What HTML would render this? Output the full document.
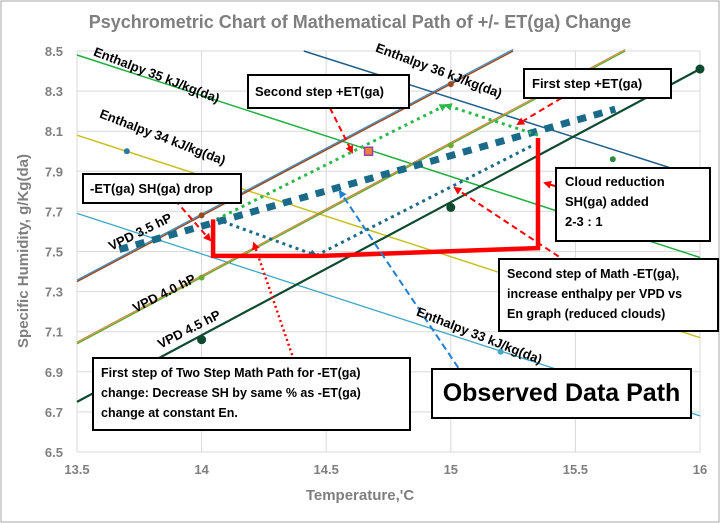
<!DOCTYPE html>
<html><head><meta charset="utf-8"><style>
html,body{margin:0;padding:0;background:#fff}
svg{display:block;font-family:"Liberation Sans",sans-serif}
</style></head><body>
<svg id="chart" width="720" height="523" viewBox="0 0 720 523">
<defs>
<marker id="ar" markerWidth="8" markerHeight="8" refX="6" refY="4" orient="auto" markerUnits="userSpaceOnUse"><path d="M0,0 L8,4 L0,8 z" fill="#ff0000"/></marker>
<marker id="ab" markerWidth="8" markerHeight="8" refX="6" refY="4" orient="auto" markerUnits="userSpaceOnUse"><path d="M0,0 L8,4 L0,8 z" fill="#1a6a8a"/></marker>
<marker id="ag" markerWidth="8" markerHeight="8" refX="6" refY="4" orient="auto" markerUnits="userSpaceOnUse"><path d="M0,0 L8,4 L0,8 z" fill="#2db84a"/></marker>
<marker id="al" markerWidth="8" markerHeight="8" refX="6" refY="4" orient="auto" markerUnits="userSpaceOnUse"><path d="M0,0 L8,4 L0,8 z" fill="#1f7fd0"/></marker>
</defs>
<rect x="1" y="1" width="718" height="521" fill="#fff" stroke="#a6a6a6"/>
<text x="360" y="28" text-anchor="middle" font-size="18" font-weight="bold" fill="#7f7f7f">Psychrometric Chart of Mathematical Path of  +/- ET(ga) Change</text>
<g id="grid"></g>
<g id="series"></g>
<g id="axes"></g>
<text x="360" y="500" text-anchor="middle" font-size="15" font-weight="bold" fill="#7f7f7f">Temperature,'C</text>
<text transform="translate(28,251) rotate(-90)" text-anchor="middle" font-size="15" font-weight="bold" fill="#7f7f7f">Specific Humidity, g/Kg(da)</text>
</svg>
<script>
const xTicks=[13.5,14,14.5,15,15.5,16];
const xTickLabels=["13.5","14","14.5","15","15.5","16"];
const yTicks=[6.5,6.7,6.9,7.1,7.3,7.5,7.7,7.9,8.1,8.3,8.5];
const yTickLabels=["6.5","6.7","6.9","7.1","7.3","7.5","7.7","7.9","8.1","8.3","8.5"];
const enth33=[[13.5,7.69],[16,6.68]];
const enth34=[[13.5,8.08],[16,7.07]];
const enth35=[[13.5,8.48],[16,7.47]];
const enth36=[[14.41,8.5],[16,7.87]];
const vpd35=[[13.5,7.35],[15.25,8.5]];
const vpd40=[[13.5,7.04],[15.7,8.5]];
const vpd45=[[13.5,6.75],[16,8.41]];
const thickPath=[[13.67,7.51],[15.66,8.21]];
const greenPath1=[[14.06,7.66],[14.98,8.23]];
const greenPath2=[[15.35,8.08],[14.98,8.23]];
const bluePath1=[[14.06,7.66],[14.46,7.48]];
const bluePath2=[[14.46,7.48],[15.33,8.03]];
const redPath=[[14.046,7.66],[14.046,7.478],[14.48,7.478],[15.35,7.517],[15.35,8.066]];
const observedPath=[[15.03,6.92],[14.555,7.8]];
const redDotted=[[14.37,6.96],[14.21,7.54]];
const X0=13.5,X1=16,Y0=6.5,Y1=8.5,PL=77,PR=700,PT=51,PB=452;
const sx=v=>PL+(v-X0)/(X1-X0)*(PR-PL);
const sy=v=>PB-(v-Y0)/(Y1-Y0)*(PB-PT);
const NS="http://www.w3.org/2000/svg";
function mk(parent,tag,attrs){const e=document.createElementNS(NS,tag);for(const k in attrs)e.setAttribute(k,attrs[k]);document.getElementById(parent).appendChild(e);return e;}
function pl(pts){return pts.map(p=>sx(p[0]).toFixed(1)+","+sy(p[1]).toFixed(1)).join(" ");}
xTicks.forEach((t,i)=>{
 const l=mk('grid','line',{x1:sx(t),x2:sx(t),y1:PT,y2:PB,stroke:'#d9d9d9'});
 
 
 const tx=mk('axes','text',{x:sx(t),y:PB+22,'text-anchor':'middle','font-size':13,'font-weight':'bold',fill:'#7f7f7f'});
 tx.textContent=xTickLabels[i];
 
 
});
yTicks.forEach((t,i)=>{
 const l=mk('grid','line',{x1:PL,x2:PR,y1:sy(t),y2:sy(t),stroke:'#d9d9d9'});
 
 
 const tx=mk('axes','text',{x:PL-14,y:sy(t)+5,'text-anchor':'end','font-size':13,'font-weight':'bold',fill:'#7f7f7f'});
 tx.textContent=yTickLabels[i];
 
 
});
function line(pts,st,name){const e=mk('series','polyline',Object.assign({points:pl(pts),fill:'none'},st));
 
 return e;}
line(enth33,{stroke:'#3fa7c8','stroke-width':1.3},'enthalpy-33-line');
line(enth34,{stroke:'#c8c020','stroke-width':1.5},'enthalpy-34-line');
line(enth35,{stroke:'#1fb040','stroke-width':1.5},'enthalpy-35-line');
line(enth36,{stroke:'#1f5f8a','stroke-width':1.5},'enthalpy-36-line');
line(vpd35.map(p=>[p[0],p[1]+0.008]),{stroke:'#3a8ac0','stroke-width':1.2},'vpd-35-line-upper');
line(vpd35,{stroke:'#9a4a20','stroke-width':1.5},'vpd-35-line');
line(vpd40,{stroke:'#6aaa30','stroke-width':1.5},'vpd-40-line-green');
line(vpd40.map(p=>[p[0],p[1]+0.008]),{stroke:'#d07a30','stroke-width':1},'vpd-40-line-orange');
line(vpd45,{stroke:'#0e4a30','stroke-width':2.2},'vpd-45-line');
line(thickPath,{stroke:'#1a6a8a','stroke-width':7,'stroke-dasharray':'9,8'},'thick-dashed-path');
line(greenPath1,{stroke:'#2db84a','stroke-width':3,'stroke-dasharray':'3,4','marker-end':'url(#ag)'},'green-dotted-path-1');
line(greenPath2,{stroke:'#2db84a','stroke-width':3,'stroke-dasharray':'3,4','marker-end':'url(#ag)'},'green-dotted-path-2');
line(bluePath1,{stroke:'#1a6a8a','stroke-width':3,'stroke-dasharray':'3,4','marker-end':'url(#ab)'},'blue-dotted-path-1');
line(bluePath2,{stroke:'#1a6a8a','stroke-width':3,'stroke-dasharray':'3,4'},'blue-dotted-path-2');
line(redPath,{stroke:'#ff0000','stroke-width':4.5},'red-math-path');
line(observedPath,{stroke:'#1f7fd0','stroke-width':2,'stroke-dasharray':'7,4','marker-end':'url(#al)'},'observed-data-path');
line(redDotted,{stroke:'#ff0000','stroke-width':2.5,'stroke-dasharray':'2,3','marker-end':'url(#ar)'},'red-dotted-arrow');
const dots=[[13.7,8.0,'#2a7aa0'],[15.65,7.96,'#2a8a40'],[15.2,7.0,'#3fa7c8'],[14,7.68,'#9a4a20'],[15,8.335,'#9a4a20'],[14,7.37,'#6aaa30'],[15,8.03,'#6aaa30'],[14,7.06,'#0e4a30'],[15,7.72,'#0e4a30'],[16,8.41,'#0e4a30']];
dots.forEach(d=>{const c=mk('series','circle',{cx:sx(d[0]),cy:sy(d[1]),r:(d[2]=='#0e4a30'?4.5:3),fill:d[2]});
 
 });
const sq=mk('series','rect',{x:sx(14.67)-4,y:sy(8.0)-4,width:8,height:8,fill:'#f08040',stroke:'#9a40a0','stroke-width':1.5});


const arrows=[[330,108,352,152],[175,200,210,240],[570,93,518,124],[575,192,545,183],[567,262,455,188]];
arrows.forEach(a=>{const l=mk('series','line',{x1:a[0],y1:a[1],x2:a[2],y2:a[3],stroke:'#ff0000','stroke-width':2,'stroke-dasharray':'6,4','marker-end':'url(#ar)'});
 
 });
</script>
<div style="position:absolute;left:0;top:0;width:720px;height:523px;pointer-events:none;font-family:'Liberation Sans',sans-serif">
<div style="position:absolute;left:97px;top:44px;font-size:13px;font-weight:bold;transform:rotate(21deg);transform-origin:0 0;white-space:nowrap">Enthalpy 35 kJ/kg(da)</div>
<div style="position:absolute;left:103px;top:106px;font-size:13px;font-weight:bold;transform:rotate(21deg);transform-origin:0 0;white-space:nowrap">Enthalpy 34 kJ/kg(da)</div>
<div style="position:absolute;left:379px;top:40px;font-size:13px;font-weight:bold;transform:rotate(20.5deg);transform-origin:0 0;white-space:nowrap">Enthalpy 36 kJ/kg(da)</div>
<div style="position:absolute;left:420px;top:304px;font-size:13px;font-weight:bold;transform:rotate(21.5deg);transform-origin:0 0;white-space:nowrap">Enthalpy 33 kJ/kg(da)</div>
<div style="position:absolute;left:106px;top:240px;font-size:13px;font-weight:bold;transform:rotate(-26deg);transform-origin:0 0;white-space:nowrap">VPD 3.5 hP</div>
<div style="position:absolute;left:130px;top:302px;font-size:13px;font-weight:bold;transform:rotate(-27deg);transform-origin:0 0;white-space:nowrap">VPD 4.0 hP</div>
<div style="position:absolute;left:155px;top:338px;font-size:13px;font-weight:bold;transform:rotate(-27deg);transform-origin:0 0;white-space:nowrap">VPD 4.5 hP</div>
<div style="position:absolute;left:247px;top:74px;width:153px;height:31px;border:2px solid #000;background:#fff;font-size:13px;font-weight:bold;line-height:31px;padding-left:6px;box-sizing:content-box">Second step +ET(ga)</div>
<div style="position:absolute;left:523px;top:68px;width:138px;height:27px;border:2px solid #000;background:#fff;font-size:13px;font-weight:bold;line-height:27px;padding-left:7px">First step +ET(ga)</div>
<div style="position:absolute;left:82px;top:173px;width:150px;height:27px;border:2px solid #000;background:#fff;font-size:13px;font-weight:bold;line-height:27px;padding-left:6px">-ET(ga) SH(ga) drop</div>
<div style="position:absolute;left:555px;top:167px;width:144px;border:2px solid #000;background:#fff;font-size:13px;font-weight:bold;line-height:20px;padding:3px 0 0 8px;box-sizing:content-box;height:68px">Cloud reduction<br>SH(ga) added<br>2-3 : 1</div>
<div style="position:absolute;left:498px;top:258px;width:210px;height:66px;border:2px solid #000;background:#fff;font-size:12.5px;font-weight:bold;line-height:20px;padding:4px 0 0 7px">Second step of Math -ET(ga),<br>increase enthalpy per VPD vs<br>En graph (reduced  clouds)</div>
<div style="position:absolute;left:92px;top:357px;width:308px;height:66px;border:2px solid #000;background:#fff;font-size:12.5px;font-weight:bold;line-height:20px;padding:4px 0 0 7px">First step of Two Step Math Path for -ET(ga)<br>change: Decrease SH by same % as -ET(ga)<br>change at constant En.</div>
<div style="position:absolute;left:431px;top:368px;width:257px;height:47px;border:2px solid #000;background:#fff;font-size:25px;font-weight:bold;line-height:47px;text-align:center">Observed Data Path</div>
</div>
</body></html>
